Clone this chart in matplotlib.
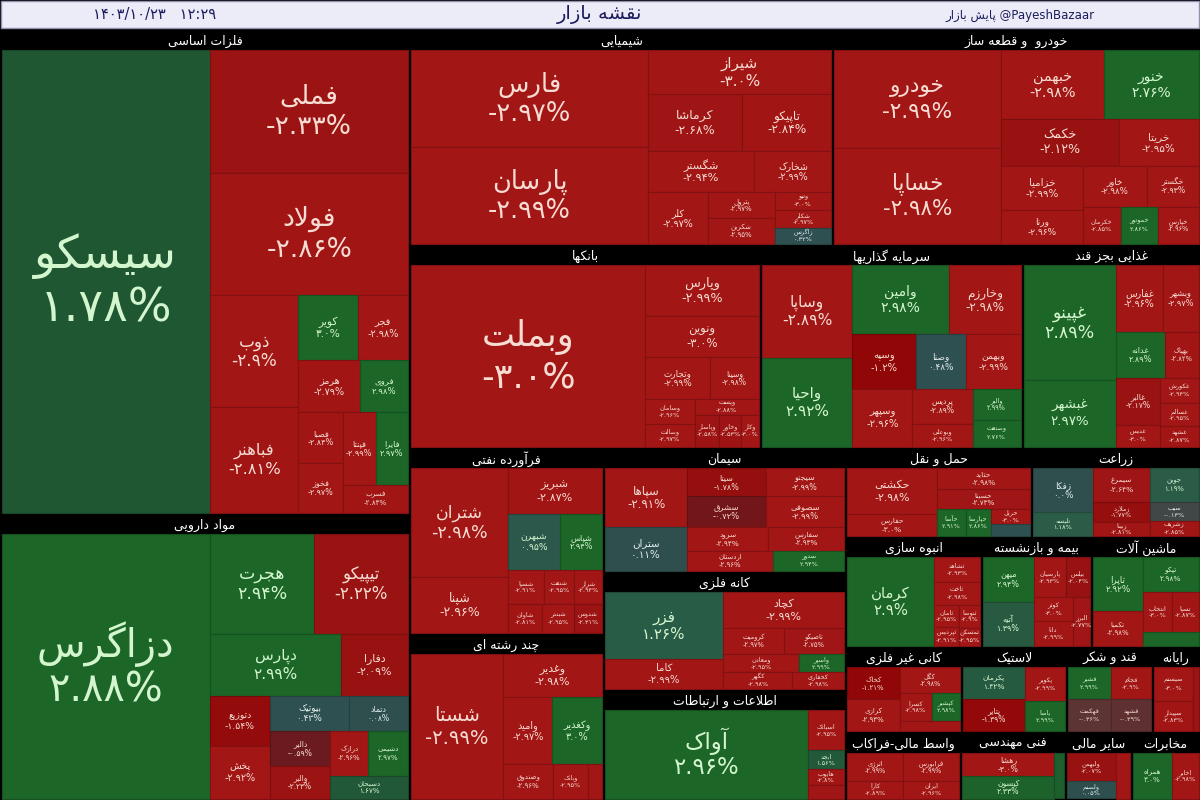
import numpy as np
import matplotlib
matplotlib.use('Agg')
import matplotlib.pyplot as plt
from matplotlib.patches import Rectangle

plt.rcParams['font.family'] = ['DejaVu Sans']

# ---------------- data ----------------
map_title = 'نقشه بازار'
map_date = '۱۴۰۳/۱۰/۲۳'
map_time = '۱۲:۲۹'
channel_fa = 'پایش بازار'
channel_id = '@PayeshBazaar'

sector_names = ['فلزات اساسی', 'مواد دارویی', 'شیمیایی', 'خودرو  و قطعه ساز', 'بانکها',
                'سرمایه گذاریها', 'غذایی بجز قند', 'فرآورده نفتی', 'چند رشته ای', 'سیمان',
                'کانه فلزی', 'اطلاعات و ارتباطات', 'حمل و نقل', 'زراعت', 'انبوه سازی',
                'بیمه و بازنشسته', 'ماشین آلات', 'کانی غیر فلزی', 'لاستیک', 'قند و شکر',
                'رایانه', 'واسط مالی-فراکاب', 'فنی مهندسی', 'سایر مالی', 'مخابرات']
sector_sizes = [198, 117, 91, 79, 71, 53, 36, 36, 32, 30, 28.5, 26.6, 16.5, 15, 14.9,
                12.1, 11.9, 9.9, 9, 7.3, 4.1, 7.7, 7, 4.4, 4.6]

stock_names = [
    ['سیسکو', 'فملی', 'فولاد', 'ذوب', 'فباهنر', 'کویر', 'فجر', 'هرمز', 'فروی', 'فصبا', 'فخوز', 'فپنتا', 'فایرا', 'فسرب'],
    ['دزاگرس', 'هجرت', 'تیپیکو', 'دپارس', 'دفارا', 'دتوزیع', 'پخش', 'بیوتیک', 'دتماد', 'دالبر', 'والبر', 'درازک', 'دشیمی', 'دسبحان'],
    ['فارس', 'پارسان', 'شیراز', 'کرماشا', 'تاپیکو', 'شگستر', 'شخارک', 'کلر', 'پترول', 'شکربن', 'وتیو', 'شکلر', 'زاگرس'],
    ['خودرو', 'خساپا', 'خبهمن', 'خنور', 'خکمک', 'خریتا', 'خزامیا', 'ورنا', 'خاور', 'خگستر', 'خکرمان', 'خموتور', 'خپارس'],
    ['وبملت', 'وپارس', 'ونوین', 'وتجارت', 'وسینا', 'وسامان', 'وصالت', 'وپست', 'وپاسار', 'وخاور', 'وکار'],
    ['وساپا', 'واحیا', 'وامین', 'وخارزم', 'وسپه', 'وصنا', 'وبهمن', 'وسپهر', 'پردیس', 'وبوعلی', 'والبر', 'وصنعت'],
    ['غپینو', 'غبشهر', 'غفارس', 'وبشهر', 'غدانه', 'بهپاک', 'غالبر', 'غدیس', 'غکورش', 'غسالم', 'غشهد'],
    ['شتران', 'شپنا', 'شبریز', 'شبهرن', 'شپاس', 'شسپا', 'شنفت', 'شراز', 'شاوان', 'شبندر', 'شدوس'],
    ['شستا', 'وغدیر', 'وامید', 'وکغدیر', 'وصندوق', 'وبانک', 'ونیکی'],
    ['سپاها', 'ستران', 'سیتا', 'سیجنو', 'سشرق', 'سصوفی', 'سرود', 'سفارس', 'اردستان', 'سدور'],
    ['فزر', 'کاما', 'کچاد', 'کرومیت', 'تاصیکو', 'ومعادن', 'واسپر', 'کگهر', 'کحفاری'],
    ['آواک', 'اسیاتک', 'ابجد', 'هایوب', 'افرا'],
    ['حکشتی', 'حفارس', 'حتاید', 'حسینا', 'حآسا', 'حپارسا', 'حریل', 'حشکوه'],
    ['زفکا', 'تلیسه', 'سیمرغ', 'زملارد', 'زبینا', 'جوین', 'سیب', 'زشریف'],
    ['کرمان', 'ثشاهد', 'ثاخت', 'ثامان', 'ثپردیس', 'ثنوسا', 'ثمسکن'],
    ['میهن', 'آتیه', 'پارسیان', 'بیلس', 'کوثر', 'دانا', 'البرز'],
    ['تاپرا', 'تکمبا', 'تپکو', 'انتخاب', 'تسپا', 'لابسا'],
    ['کخاک', 'کرازی', 'کگل', 'کسرا', 'کپشیر', 'کساوه'],
    ['پکرمان', 'پتایر', 'پکویر', 'یاسا'],
    ['قشیر', 'قهکمت', 'قجام', 'قشهد'],
    ['سیستم', 'سپیدار', 'داده'],
    ['اترژی', 'کارا', 'فرابورس', 'ایران'],
    ['رهشا', 'کیسون', 'وبوتان'],
    ['ولبهمن', 'ولصنم', 'ولیز'],
    ['همراه', 'اخابر'],
]
stock_sizes = [
    [97, 24.4, 24.4, 9.9, 9.4, 3.9, 3.3, 3.2, 2.5, 2.3, 2.2, 2.4, 2.4, 1.8],
    [55.6, 10.5, 9.5, 8.2, 4.2, 3.0, 3.2, 2.8, 2.1, 2.1, 2.0, 1.7, 1.8, 1.8],
    [22.7, 22.5, 8.0, 5.3, 5.0, 4.3, 3.1, 3.1, 1.7, 1.7, 1.0, 1.0, 0.9],
    [16.2, 16.0, 7.1, 6.5, 5.5, 3.7, 3.6, 2.8, 2.6, 2.1, 1.4, 1.4, 1.5],
    [43, 5.8, 4.8, 2.8, 2.1, 1.25, 1.15, 1.0, 0.8, 0.7, 0.6],
    [8.4, 8.1, 6.7, 5.0, 3.5, 2.75, 3.0, 3.5, 2.1, 1.4, 1.5, 1.3],
    [10.7, 6.3, 3.2, 2.4, 2.3, 1.6, 2.1, 1.0, 1.0, 0.9, 0.8],
    [10.2, 5.3, 4.2, 2.9, 2.3, 1.2, 1.0, 0.9, 1.0, 0.9, 0.8],
    [13.5, 4.3, 3.4, 3.4, 1.75, 1.2, 0.5],
    [4.8, 3.6, 2.2, 2.2, 2.4, 2.4, 1.9, 1.8, 1.7, 1.4],
    [8.5, 3.75, 4.6, 1.7, 1.7, 1.5, 0.9, 1.2, 0.9],
    [18.4, 1.5, 0.7, 0.6, 0.5],
    [4.3, 2.0, 2.0, 1.9, 0.8, 0.7, 0.6, 0.5],
    [2.6, 1.4, 1.9, 1.1, 0.8, 1.6, 0.9, 0.7],
    [8.1, 1.2, 1.1, 0.6, 0.5, 0.5, 0.4],
    [2.1, 2.1, 1.2, 0.9, 0.9, 0.9, 0.8],
    [2.75, 1.75, 2.0, 1.2, 1.1, 0.8],
    [1.65, 1.65, 1.5, 0.9, 0.8, 0.6],
    [1.9, 2.0, 1.35, 1.2],
    [1.3, 1.3, 1.2, 1.2],
    [1.8, 1.6, 0.5],
    [1.4, 0.9, 1.4, 0.9],
    [1.9, 1.9, 0.4],
    [1.5, 0.9, 0.7],
    [1.9, 1.3],
]
stock_changes = [
    [1.78, -2.33, -2.86, -2.9, -2.81, 3.0, -2.98, -2.79, 2.98, -2.84, -2.97, -2.99, 2.97, -2.83],
    [2.88, 2.94, -2.22, 2.99, -2.09, -1.54, -2.92, 0.43, 0.08, -0.59, -2.23, -2.96, 2.97, 1.67],
    [-2.97, -2.99, -3.0, -2.68, -2.84, -2.94, -2.99, -2.97, -2.97, -2.95, -3.0, -2.97, 0.32],
    [-2.99, -2.98, -2.98, 2.76, -2.12, -2.95, -2.99, -2.96, -2.98, -2.93, -2.85, 2.86, -2.96],
    [-3.0, -2.99, -3.0, -2.99, -2.98, -2.96, -2.97, -2.88, -2.58, -2.53, -3.0],
    [-2.89, 2.92, 2.98, -2.98, -1.2, 0.48, -2.99, -2.96, -2.89, -2.96, 2.99, 2.76],
    [2.89, 2.97, -2.96, -2.97, 2.89, -2.82, -2.17, -3.0, -2.94, -2.95, -2.87],
    [-2.98, -2.96, -2.87, 0.95, 2.94, -2.91, -2.95, -2.94, -2.81, -2.95, -2.31],
    [-2.99, -2.98, -2.97, 3.0, -2.96, -2.95, -2.94],
    [-2.91, 0.11, -1.78, -2.99, -0.72, -2.99, -2.94, -2.93, -2.96, 2.94],
    [1.26, -2.99, -2.99, -2.97, -2.75, -2.95, 2.99, -2.98, -2.98],
    [2.96, -2.95, 1.56, -2.8, -2.7],
    [-2.98, -3.0, -2.98, -2.73, 2.91, 2.86, -3.0, 0.4],
    [0.0, 1.18, -2.64, -1.77, -2.81, 1.19, -0.13, -2.85],
    [2.9, -2.93, -2.98, -2.95, -2.91, -2.9, -2.95],
    [2.94, 1.39, -2.93, -2.04, -3.0, -2.99, -2.77],
    [2.92, -2.98, 2.98, -3.0, -2.87, 2.8],
    [-1.21, -2.93, -2.98, -2.98, 2.98, -2.9],
    [1.42, -1.39, -2.99, 2.99],
    [2.99, -0.36, -2.9, -0.39],
    [-3.0, -2.83, -2.4],
    [-2.99, -2.89, -2.99, -2.96],
    [-3.0, 2.33, 2.18],
    [-2.07, 0.05, -3.0],
    [3.0, -2.98],
]

# ---------------- layout plans (strip orientation, number of items) ----------------
sector_plan = [('col', 2), ('row', 2), ('row', 3), ('col', 2), ('col', 3),
               ('row', 2), ('row', 3), ('row', 4), ('row', 4)]
C, R = 'col', 'row'
stock_plans = [
    [(C, 1), (R, 1), (R, 1), (C, 2), (R, 2), (R, 2), (C, 2), (R, 2), (R, 1)],
    [(C, 1), (R, 2), (R, 2), (C, 2), (R, 2), (C, 2), (R, 2), (R, 1)],
    [(C, 2), (R, 1), (R, 2), (R, 2), (C, 1), (C, 2), (C, 3)],
    [(C, 2), (R, 2), (R, 2), (C, 2), (R, 2), (R, 3)],
    [(C, 1), (R, 1), (R, 1), (R, 2), (C, 2), (R, 1)],
    [(C, 2), (R, 2), (R, 3), (C, 1), (C, 2), (C, 2)],
    [(C, 2), (R, 2), (R, 2), (C, 2), (C, 3)],
    [(C, 2), (R, 1), (R, 2), (R, 3), (R, 3)],
    [(C, 1), (R, 1), (R, 2), (R, 3)],
    [(C, 2), (R, 2), (R, 2), (R, 2), (R, 2)],
    [(C, 2), (R, 1), (R, 2), (R, 2), (R, 2)],
    [(C, 1), (C, 4)],
    [(C, 2), (R, 1), (R, 1), (C, 1), (C, 1), (C, 2)],
    [(C, 2), (C, 3), (C, 3)],
    [(C, 1), (R, 1), (R, 1), (C, 2), (C, 2)],
    [(C, 2), (R, 2), (C, 2), (C, 1)],
    [(C, 2), (R, 1), (R, 2), (R, 1)],
    [(C, 2), (R, 1), (R, 2), (R, 1)],
    [(C, 2), (C, 2)],
    [(C, 2), (C, 2)],
    [(C, 2), (C, 1)],
    [(C, 2), (C, 2)],
    [(C, 2), (C, 1)],
    [(C, 2), (C, 1)],
    [(C, 1), (C, 1)],
]

# ---------------- persian text helpers ----------------
DUAL = {'ب': 0xFE8F, 'ت': 0xFE95, 'ث': 0xFE99, 'ج': 0xFE9D, 'ح': 0xFEA1, 'خ': 0xFEA5,
        'س': 0xFEB1, 'ش': 0xFEB5, 'ص': 0xFEB9, 'ض': 0xFEBD, 'ط': 0xFEC1, 'ظ': 0xFEC5,
        'ع': 0xFEC9, 'غ': 0xFECD, 'ف': 0xFED1, 'ق': 0xFED5, 'ل': 0xFEDD, 'م': 0xFEE1,
        'ن': 0xFEE5, 'ه': 0xFEE9, 'ئ': 0xFE89, 'پ': 0xFB56, 'چ': 0xFB7A, 'ک': 0xFB8E,
        'گ': 0xFB92, 'ی': 0xFBFC}
RIGHT = {'ا': 0xFE8D, 'آ': 0xFE81, 'أ': 0xFE83, 'د': 0xFEA9, 'ذ': 0xFEAB, 'ر': 0xFEAD,
         'ز': 0xFEAF, 'ژ': 0xFB8A, 'و': 0xFEED, 'ؤ': 0xFE85}
LAM_ALEF = {'ا': 0xFEFB, 'آ': 0xFEF5, 'أ': 0xFEF7}


def shape(text):
    text = text.replace('ي', 'ی').replace('ك', 'ک')
    c = list(text)
    n = len(c)
    res = []
    i = 0
    while i < n:
        ch = c[i]
        prev = c[i - 1] if i > 0 else ''
        cp = prev in DUAL and (ch in DUAL or ch in RIGHT)
        if ch == 'ل' and i + 1 < n and c[i + 1] in LAM_ALEF:
            res.append(chr(LAM_ALEF[c[i + 1]] + (1 if cp else 0)))
            i += 2
            continue
        nxt = c[i + 1] if i + 1 < n else ''
        cn = ch in DUAL and (nxt in DUAL or nxt in RIGHT)
        if ch in DUAL:
            res.append(chr(DUAL[ch] + (3 if cp and cn else 1 if cp else 2 if cn else 0)))
        elif ch in RIGHT:
            res.append(chr(RIGHT[ch] + (1 if cp else 0)))
        else:
            res.append(ch)
        i += 1
    return ''.join(reversed(res))


FA_DIGITS = str.maketrans('0123456789', '۰۱۲۳۴۵۶۷۸۹')


def pct_label(p):
    s = f'{abs(p):.2f}'.rstrip('0')
    if s.endswith('.'):
        s += '0'
    return ('-' if p < 0 else '') + s.translate(FA_DIGITS) + '%'


def label_em(s):
    w = 0
    for ch in s:
        w += {'-': 0.36, '.': 0.32, '%': 0.95}.get(ch, 0.64)
    return w


# ---------------- colours ----------------
c_pts = [-3.0, -2.0, -1.2, -0.6, -0.3, 0.0, 0.5, 1.2, 1.8, 2.5]
c_rgb = np.array([(163, 22, 22), (152, 18, 18), (145, 6, 6), (108, 26, 30), (88, 58, 58),
                  (47, 79, 79), (47, 80, 80), (42, 92, 72), (31, 87, 50), (28, 102, 40)]) / 255


def cell_color(p):
    return tuple(np.interp(p, c_pts, c_rgb[:, k]) for k in range(3))


def text_color(p):
    if p < -0.2:
        return '#f6dcd2'
    if p > 0.8:
        return '#d4f6cf'
    return '#e4eeee'


# ---------------- layouts ----------------
def squarify(vals, x, y, w, h):
    rects = []
    vals = list(vals)
    i = 0
    n = len(vals)
    while i < n:
        rem = sum(vals[i:])
        col = w >= 0.85 * h

        def worst(group):
            s = sum(group)
            if col:
                t = w * s / rem
                lens = [h * v / s for v in group]
            else:
                t = h * s / rem
                lens = [w * v / s for v in group]
            return max(max(t / l, l / t) for l in lens)

        j = i + 1
        best = worst(vals[i:j])
        while j < n:
            r = worst(vals[i:j + 1])
            if r > best:
                break
            best = r
            j += 1
        grp = vals[i:j]
        s = rem if j == n else sum(grp)
        if col:
            sw = w * s / rem
            yy = y
            for v in grp:
                rects.append((x, yy, sw, h * v / s))
                yy += h * v / s
            x += sw
            w -= sw
        else:
            sh = h * s / rem
            xx = x
            for v in grp:
                rects.append((xx, y, w * v / s, sh))
                xx += w * v / s
            y += sh
            h -= sh
        i = j
    return rects


def strip_layout(vals, plan, x, y, w, h):
    # strips follow the plan; anything left over is squarified
    rects = []
    i = 0
    for orient, k in plan:
        if i >= len(vals):
            break
        rem = sum(vals[i:])
        grp = vals[i:i + k]
        s = sum(grp)
        if orient == 'col':
            sw = w * s / rem
            yy = y
            for v in grp:
                rects.append((x, yy, sw, h * v / s))
                yy += h * v / s
            x += sw
            w -= sw
        else:
            sh = h * s / rem
            xx = x
            for v in grp:
                rects.append((xx, y, w * v / s, sh))
                xx += w * v / s
            y += sh
            h -= sh
        i += k
    if i < len(vals):
        rects += squarify(vals[i:], x, y, w, h)
    return rects


# ---------------- drawing ----------------
fig = plt.figure(figsize=(12, 8), dpi=100)
fig.patch.set_facecolor('black')
ax = fig.add_axes([0, 0, 1, 1])
ax.set_xlim(0, 1200)
ax.set_ylim(800, 0)
ax.axis('off')

# title band
ax.add_patch(Rectangle((1, 1), 1198, 27, facecolor='#ececf8', edgecolor='#8f8fb0', lw=1))
ax.text(600, 14, shape(map_title), ha='center', va='center', fontsize=14, color='#1c1c5c')
ax.text(155, 14, map_date + '   ' + map_time, ha='center', va='center', fontsize=10.5, color='#1c1c5c')
ax.text(1020, 15, shape(channel_fa) + ' ' + channel_id, ha='center', va='center', fontsize=8.5, color='#1c1c5c')

sector_rects = strip_layout(sector_sizes, sector_plan, 0, 30, 1200, 770)
g = 1.5
hdr = 20
for si, (sx, sy, sw, sh) in enumerate(sector_rects):
    ax.text(sx + sw / 2, sy + hdr / 2 + 1, shape(sector_names[si]), ha='center', va='center',
            fontsize=9, color='white')
    cx0, cy0, cw, ch = sx + g, sy + hdr, sw - 2 * g, sh - hdr - g
    cells = strip_layout(stock_sizes[si], stock_plans[si], cx0, cy0, cw, ch)
    for (x, y, w, h), name, p in zip(cells, stock_names[si], stock_changes[si]):
        fc = cell_color(p)
        ec = tuple(v * 0.8 for v in fc)
        rect = Rectangle((x, y), w, h, facecolor=fc, edgecolor=ec, lw=0.8)
        ax.add_patch(rect)
        if w < 16 or h < 14:
            continue
        lab = pct_label(p)
        em = max(label_em(lab), 0.55 * len(name))
        fpx = min(0.17 * np.sqrt(w * h), h / 2.6, 0.95 * w / em, 46)
        fpx = max(fpx, 6.5)
        ccx, ccy = x + w / 2, y + h / 2
        tc = text_color(p)
        t1 = ax.text(ccx, ccy - 0.55 * fpx, shape(name), ha='center', va='center',
                     fontsize=fpx * 0.72, color=tc)
        t2 = ax.text(ccx, ccy + 0.6 * fpx, lab, ha='center', va='center',
                     fontsize=fpx * 0.72, color=tc)
        t1.set_clip_path(rect)
        t2.set_clip_path(rect)

fig.savefig('out.png', dpi=100, facecolor='black')
